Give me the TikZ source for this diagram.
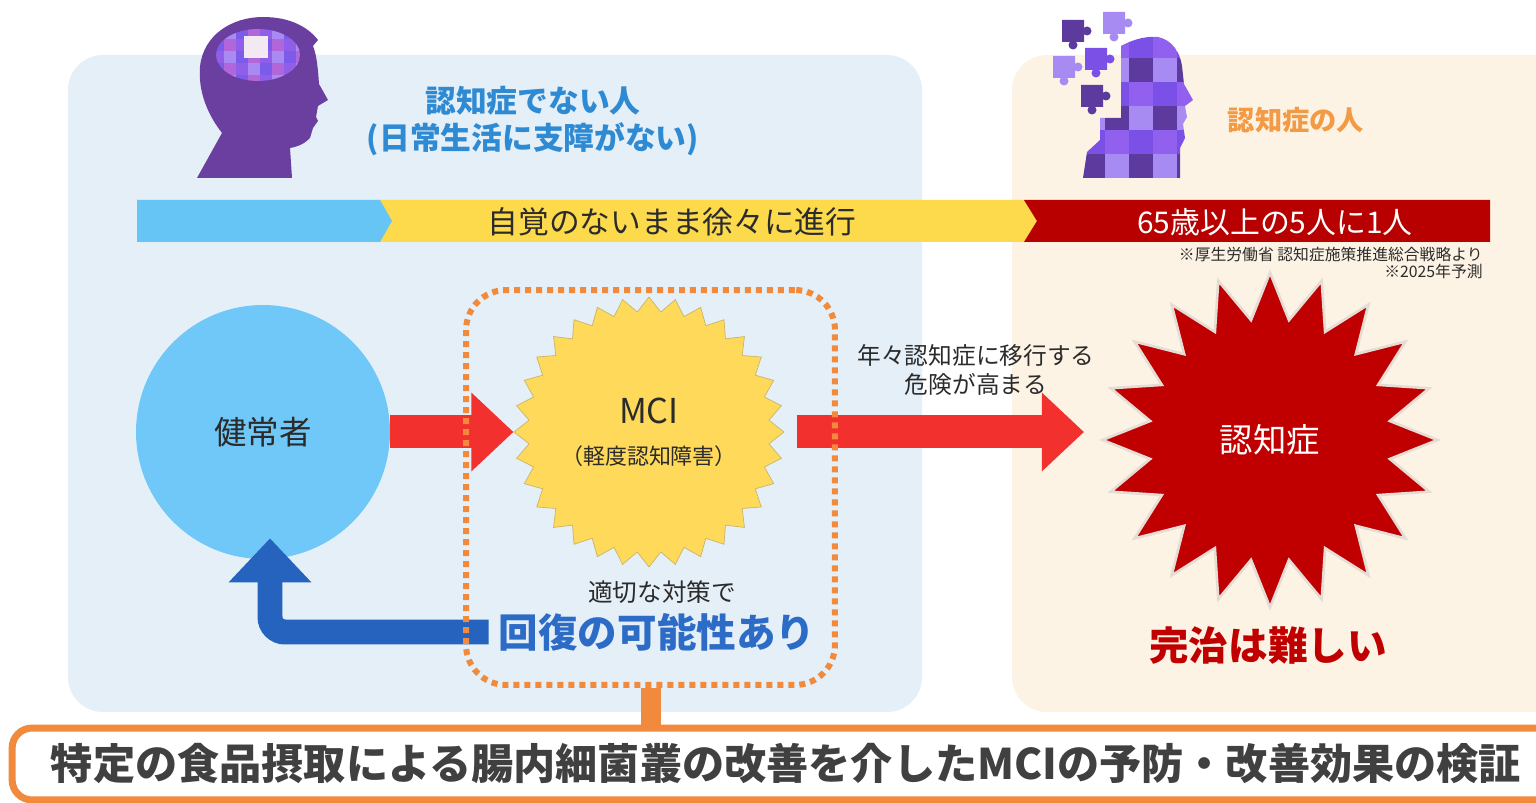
\documentclass[tikz,border=0pt]{standalone}
\usepackage{fontspec}
\setmainfont{Noto Sans CJK JP}
\usepackage{tikz}
\usetikzlibrary{positioning,arrows.meta,shapes.geometric}

\definecolor{panelblue}{HTML}{E4EFF7}
\definecolor{panelcream}{HTML}{FDF3E4}
\definecolor{barblue}{HTML}{66C5F5}
\definecolor{baryellow}{HTML}{FDD94C}
\definecolor{barred}{HTML}{B80000}
\definecolor{circblue}{HTML}{70C8F8}
\definecolor{arrowred}{HTML}{F2302E}
\definecolor{arrowblue}{HTML}{2563BE}
\definecolor{mciyellow}{HTML}{FFD95A}
\definecolor{mciedge}{HTML}{C9B56A}
\definecolor{starred}{HTML}{C00000}
\definecolor{staredge}{HTML}{E6DCD6}
\definecolor{linkorange}{HTML}{F28A3E}
\definecolor{titleblue}{HTML}{2E8AD3}
\definecolor{recoverblue}{HTML}{2C6BC6}
\definecolor{titleorange}{HTML}{F39A44}
\definecolor{inkdark}{HTML}{2B2B2B}
\definecolor{goalgray}{HTML}{404040}
\definecolor{headpurple}{HTML}{6B3FA0}
\definecolor{brain0}{HTML}{8F5FE9}
\definecolor{brain1}{HTML}{B167DA}
\definecolor{brain2}{HTML}{7C5BEA}
\definecolor{brain3}{HTML}{A88AF2}
\definecolor{brainwhite}{HTML}{F3E9F2}
\definecolor{puz0}{HTML}{5C3A9E}
\definecolor{puz1}{HTML}{7B50E6}
\definecolor{puz2}{HTML}{A78BF2}
\definecolor{puz3}{HTML}{9260EE}

\begin{document}
\begin{tikzpicture}[x=0.02cm,y=-0.02cm,
    panel/.style={rounded corners=0.7cm},
    lbl/.style={inner sep=0pt,text=inkdark,align=center},
    bigarr/.style={draw=arrowred,line width=0.66cm,-{Triangle[width=1.52cm,length=0.84cm]}},
    backarr/.style={draw=arrowblue,line width=0.5cm,rounded corners=0.3cm,-{Triangle[width=1.6cm,length=0.88cm]}},
    piece/.pic={\fill[#1] (0,0) rectangle (22,22) (25,11) circle[radius=0.09cm] (11,25) circle[radius=0.09cm];}
  ]
    \useasboundingbox (0,0) rectangle (1536,803);
    \fill[white] (0,0) rectangle (1536,803);

    % two panels
    \fill[panelblue,panel] (68,55) rectangle (922,712);
    \fill[panelcream,panel] (1012,55) rectangle (1580,712);

    % progress bar
    \fill[baryellow] (378,200) -- (1025,200) -- (1038,221) -- (1025,242) -- (378,242) -- (390,221) -- cycle;
    \fill[barred] (1024,200) -- (1490,200) -- (1490,242) -- (1024,242) -- (1037,221) -- cycle;
    \fill[barblue] (137,200) -- (380,200) -- (392,221) -- (380,242) -- (137,242) -- cycle;
    \node[lbl,font=\fontsize{17.5}{20}\selectfont] (slow) at (672,222) {自覚のないまま徐々に進行};
    \node[lbl,text=white,font=\fontsize{17}{20}\selectfont] (ratio) at (1275,222) {65歳以上の5人に1人};
    \node[lbl,anchor=north east,align=right,font=\fontsize{9}{9.8}\selectfont] (source) at (1483,247)
      {※厚生労働省\ 認知症施策推進総合戦略より\\※2025年予測};

    % left head
    \fill[headpurple] (197,178) -- (222,133) .. controls (208,115) and (198,92) .. (200,67)
      .. controls (203,35) and (232,17) .. (263,17) .. controls (290,17) and (308,27) .. (318,40)
      -- (313,46) .. controls (317,56) and (318,70) .. (319,84) -- (328,100) -- (318,106)
      -- (316,117) -- (318,121) -- (313,128) -- (310,138) .. controls (302,146) and (295,147) .. (290,148)
      -- (292,178) -- cycle;
    \begin{scope}
      \clip (258,55) ellipse [x radius=0.84cm,y radius=0.52cm];
      \foreach \i in {0,...,7}
        \foreach \j in {0,...,4}{
          \pgfmathtruncatemacro\k{mod(3*\i+2*\j,4)}
          \fill[brain\k] (212+12*\i,27+12*\j) rectangle +(12,12);
        }
      \fill[brainwhite] (244,36) rectangle (268,58);
    \end{scope}

    % right head, falling apart
    \begin{scope}
      \clip (1083,178) -- (1087,152) -- (1100,140) -- (1100,118) -- (1121,118) -- (1121,46)
        .. controls (1135,38) and (1150,36) .. (1158,37) .. controls (1172,40) and (1180,52) .. (1182,66)
        -- (1184,84) -- (1193,100) -- (1185,106) -- (1187,117) -- (1183,124) -- (1185,138)
        -- (1180,148) -- (1180,178) -- cycle;
      \foreach \i in {0,...,4}
        \foreach \j in {0,...,5}{
          \pgfmathtruncatemacro\k{mod(2*\i+3*\j+1,4)}
          \fill[puz\k] (1081+24*\i,34+24*\j) rectangle +(24,24);
        }
    \end{scope}
    \pic at (1062,20) {piece=puz0};
    \pic at (1103,12) {piece=puz2};
    \pic at (1085,48) {piece=puz1};
    \pic at (1053,56) {piece=puz2};
    \pic at (1081,85) {piece=puz0};

    % titles
    \node[lbl,text=titleblue,font=\bfseries\fontsize{17.5}{21}\selectfont] (nondem) at (533,121)
      {認知症でない人\\(日常生活に支障がない)};
    \node[lbl,text=titleorange,font=\bfseries\fontsize{15.5}{18}\selectfont] (demtitle) at (1296,120) {認知症の人};

    % stages
    \node[circle,fill=circblue,minimum size=5.08cm,font=\fontsize{18.5}{22}\selectfont,text=inkdark] (healthy) at (263,432) {健常者};
    \node[star,star points=32,star point ratio=1.12,minimum size=5.4cm,fill=mciyellow,draw=mciedge] (mci) at (649,432) {};
    \node[lbl,font=\fontsize{19.5}{22}\selectfont] (mciname) at (649,411) {MCI};
    \node[lbl,font=\fontsize{12.5}{14}\selectfont] (mcifull) at (649,456) {（軽度認知障害）};
    \node[star,star points=20,star point ratio=1.38,minimum size=6.7cm,fill=starred,draw=staredge,line width=1.5pt,
      text=white,font=\fontsize{19}{22}\selectfont] (dementia) at (1270,440) {認知症};

    \node[lbl,font=\fontsize{13.5}{17}\selectfont] (risk) at (976,370) {年々認知症に移行する\\危険が高まる};
    \node[lbl,font=\fontsize{14}{16}\selectfont] (measure) at (662,592) {適切な対策で};
    \node[lbl,text=recoverblue,font=\bfseries\fontsize{22.5}{26}\selectfont] (recover) at (657,632) {回復の可能性あり};
    \node[lbl,text=starred,font=\bfseries\fontsize{22.5}{26}\selectfont] (hard) at (1268,645) {完治は難しい};

    % arrows
    \draw[bigarr] (healthy.east) -- (healthy.east -| mci.west);
    \draw[bigarr,shorten <=0.24cm,shorten >=0.3cm] (mci.east) -- (mci.east -| dementia.west);
    \draw[backarr] ([xshift=-0.2cm]recover.west) -| ([xshift=0.14cm,yshift=0.42cm]healthy.south);

    % dotted frame round MCI
    \node[draw=linkorange,line width=0.12cm,dash pattern=on 0.12cm off 0.1cm,rounded corners=0.8cm,
      minimum width=7.38cm,minimum height=7.9cm] (mcibox) at (650.5,487.5) {};

    % study goal
    \node[draw=linkorange,line width=0.14cm,fill=white,rounded corners=0.4cm,minimum width=30.96cm,minimum height=1.44cm,
      inner sep=0pt,text=goalgray,font=\bfseries\fontsize{24}{28}\selectfont] (goal) at (786,764)
      {特定の食品摂取による腸内細菌叢の改善を介したMCIの予防・改善効果の検証};
    \draw[draw=linkorange,line width=0.4cm] (mcibox.south) -- (mcibox.south |- goal.north);
\end{tikzpicture}
\end{document}
